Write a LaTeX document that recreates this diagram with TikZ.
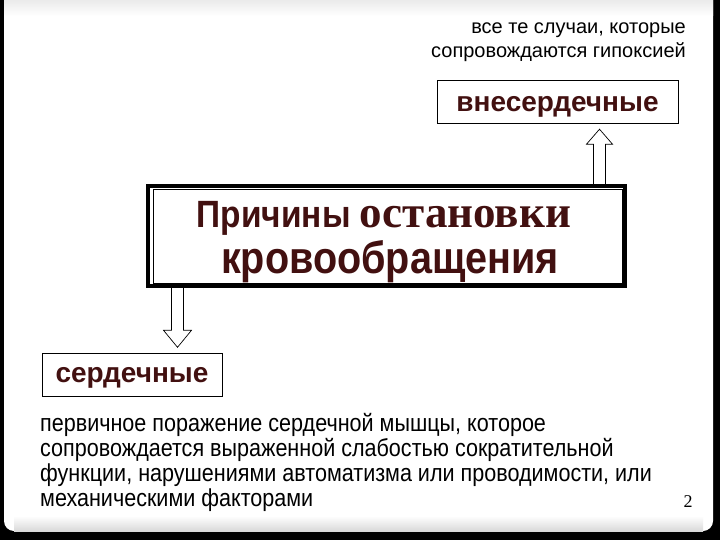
\documentclass[tikz,border=0pt]{standalone}
\usepackage{fontspec}
\setmainfont{Liberation Sans}
\newfontfamily\timesfont{Liberation Serif}
\newfontfamily\tallsans{Liberation Sans}[FakeStretch=0.88]
\usetikzlibrary{calc}
\definecolor{titlebrown}{RGB}{66,16,16}

\tikzset{
    labelbox/.style = {draw, thin, minimum height=43, inner sep=0pt,
        text depth=0pt, font=\fontsize{28}{30}\selectfont\bfseries, text=titlebrown},
    titleline/.style = {anchor=base, inner sep=0pt, text=titlebrown},
    blockarrow/.style = {draw, fill=white, line width=0.7pt, line join=miter}
}

\begin{document}
\begin{tikzpicture}[x=1pt, y=-1pt]
    \useasboundingbox (0,0) rectangle (720,540);
    % slide frame
    \fill[black] (0,0) rectangle (720,540);
    \fill[white, rounded corners=10pt] (4,-10) rectangle (713,531);
    \shade[top color=black!8, bottom color=white] (4,0) rectangle (713,16);
    \shade[top color=white, bottom color=black!15] (14,516) rectangle (703,531);

    \node (note) [anchor=north east, align=right, inner sep=0pt,
        font=\fontsize{20}{24}\selectfont] at (686,23)
        {все те случаи, которые\\сопровождаются гипоксией};

    \node (extbox) [labelbox, minimum width=241, text height=21pt] at (557.5,101.5) {внесердечные};

    \node (mainbox) [draw, line width=4pt, minimum width=477, minimum height=100,
        inner sep=0pt] at (386.5,236) {};
    \draw[thin] ($(mainbox.north west)+(7,5)$) rectangle ($(mainbox.south east)+(-5,-5)$);
    \node (titletop) [titleline] at (384,227)
        {\tallsans\bfseries\fontsize{38}{40}\selectfont Причины
         \timesfont\fontsize{45}{45}\selectfont остановки};
    \node (titlebottom) [titleline] at (390,273)
        {\tallsans\bfseries\fontsize{45}{45}\selectfont кровообращения};

    \node (cardbox) [labelbox, minimum width=180, text height=14pt] at (132,375) {сердечные};

    \node (details) [anchor=base west, align=left, inner sep=0pt,
        font=\tallsans\fontsize{24.5}{25}\selectfont] at (40,506)
        {первичное поражение сердечной мышцы, которое\\
         сопровождается выраженной слабостью сократительной\\
         функции, нарушениями автоматизма или проводимости, или\\
         механическими факторами};

    \node (pagenum) [anchor=base, font=\timesfont\fontsize{18}{20}\selectfont] at (688,507) {2};

    % arrows
    \coordinate (upfoot) at ([xshift=213pt]mainbox.north);
    \coordinate (uptip) at ($(upfoot |- extbox.south)+(0,6)$);
    \draw[blockarrow] ($(upfoot)+(-6,0)$) -- ($(uptip)+(-6,15)$) -- ($(uptip)+(-13,15)$)
        -- (uptip) -- ($(uptip)+(13,15)$) -- ($(uptip)+(6,15)$) -- ($(upfoot)+(6,0)$);

    \coordinate (downfoot) at ([xshift=-209pt]mainbox.south);
    \coordinate (downtip) at ($(downfoot |- cardbox.north)+(0,-6)$);
    \draw[blockarrow] ($(downfoot)+(-6,0)$) -- ($(downtip)+(-6,-17)$) -- ($(downtip)+(-14,-17)$)
        -- (downtip) -- ($(downtip)+(14,-17)$) -- ($(downtip)+(6,-17)$) -- ($(downfoot)+(6,0)$);
\end{tikzpicture}
\end{document}
